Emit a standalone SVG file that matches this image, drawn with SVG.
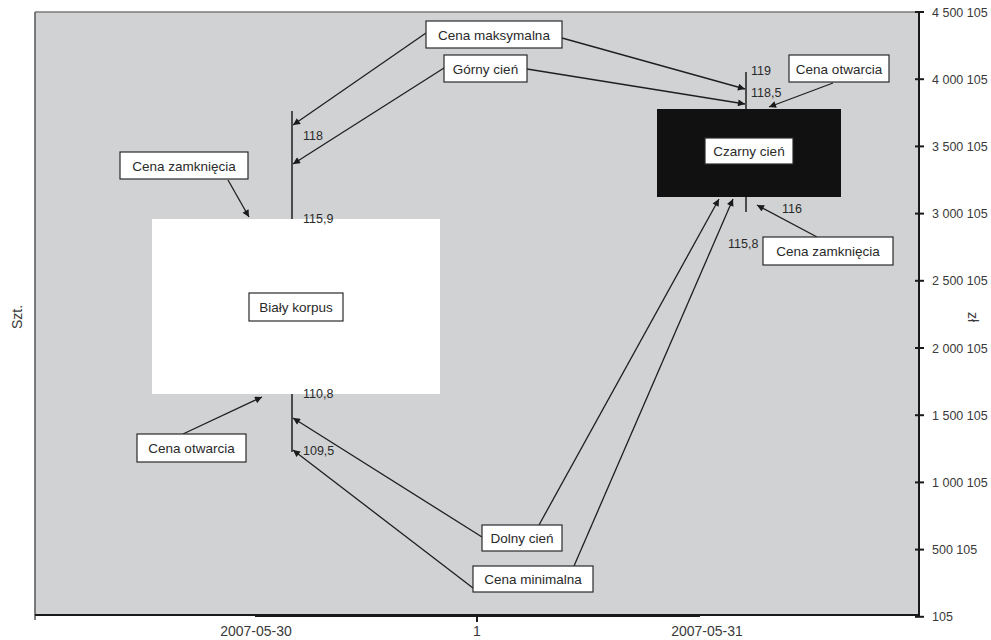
<svg xmlns="http://www.w3.org/2000/svg" width="991" height="640" viewBox="0 0 991 640">
<defs>
<marker id="ah" viewBox="0 0 10 10" refX="10" refY="5" markerWidth="9" markerHeight="7" markerUnits="userSpaceOnUse" orient="auto">
<path d="M0,0 L10,5 L0,10 Z" fill="#1a1a1a"/>
</marker>
</defs>
<style>
.lbl{font-family:"Liberation Sans",Arial,sans-serif;font-size:13.5px;fill:#2a2a2a;text-anchor:middle}
.val{font-family:"Liberation Sans",Arial,sans-serif;font-size:12.5px;fill:#2a2a2a}
.tick{font-family:"Liberation Sans",Arial,sans-serif;font-size:12.5px;fill:#3a3a3a}
.ax{font-family:"Liberation Sans",Arial,sans-serif;font-size:14px;fill:#3a3a3a;text-anchor:middle}
.box{fill:#fff;stroke:#2a2a2a;stroke-width:1.2}
.con{stroke:#1f1f1f;stroke-width:1.3;fill:none;marker-end:url(#ah)}
.wick{stroke:#1f1f1f;stroke-width:1.5}
</style>
<rect width="991" height="640" fill="#fff"/>
<!-- plot area -->
<rect x="35" y="12" width="884" height="603" fill="#d1d2d4"/>
<line x1="35" y1="12" x2="919" y2="12" stroke="#7a7a7a" stroke-width="1.5"/>
<line x1="35" y1="12" x2="35" y2="620" stroke="#555" stroke-width="1.5"/>
<!-- bottom axis -->
<g id="x-axis">
<line x1="35" y1="615" x2="919" y2="615" stroke="#1a1a1a" stroke-width="2"/>
<line x1="255" y1="615.5" x2="700" y2="615.5" stroke="#1a1a1a" stroke-width="3"/>
<line x1="477" y1="615" x2="477" y2="622" stroke="#1a1a1a" stroke-width="2"/>
<text class="ax" x="256" y="636">2007-05-30</text>
<text class="ax" x="477" y="636">1</text>
<text class="ax" x="707" y="636">2007-05-31</text>
</g>
<!-- right axis -->
<g id="y-axis">
<line x1="919" y1="12" x2="919" y2="617" stroke="#1a1a1a" stroke-width="2"/>
<g stroke="#1a1a1a" stroke-width="2">
<line x1="915" y1="12" x2="924" y2="12"/>
<line x1="915" y1="79.2" x2="924" y2="79.2"/>
<line x1="915" y1="146.4" x2="924" y2="146.4"/>
<line x1="915" y1="213.6" x2="924" y2="213.6"/>
<line x1="915" y1="280.8" x2="924" y2="280.8"/>
<line x1="915" y1="348" x2="924" y2="348"/>
<line x1="915" y1="415.2" x2="924" y2="415.2"/>
<line x1="915" y1="482.4" x2="924" y2="482.4"/>
<line x1="915" y1="549.6" x2="924" y2="549.6"/>
<line x1="915" y1="616.8" x2="924" y2="616.8"/>
</g>
<text class="tick" x="932" y="16.5">4 500 105</text>
<text class="tick" x="932" y="83.7">4 000 105</text>
<text class="tick" x="932" y="150.9">3 500 105</text>
<text class="tick" x="932" y="218.1">3 000 105</text>
<text class="tick" x="932" y="285.3">2 500 105</text>
<text class="tick" x="932" y="352.5">2 000 105</text>
<text class="tick" x="932" y="419.7">1 500 105</text>
<text class="tick" x="932" y="486.9">1 000 105</text>
<text class="tick" x="932" y="554.1">500 105</text>
<text class="tick" x="932" y="621.3">105</text>
</g>
<text class="ax" transform="translate(22,317) rotate(-90)" font-size="13">Szt.</text>
<text class="ax" transform="translate(968,317) rotate(90)" font-size="13">zł</text>
<!-- white candle -->
<g id="white-candle">
<line class="wick" x1="292" y1="111" x2="292" y2="219"/>
<line class="wick" x1="292" y1="394" x2="292" y2="452"/>
<rect x="152" y="219" width="288" height="175" fill="#fff"/>
<rect class="box" x="249" y="293" width="94" height="28"/>
<text class="lbl" x="296" y="312">Biały korpus</text>
<text class="val" x="303" y="140">118</text>
<text class="val" x="303" y="223">115,9</text>
<text class="val" x="303" y="398">110,8</text>
<text class="val" x="303" y="455">109,5</text>
</g>
<!-- black candle -->
<g id="black-candle">
<line class="wick" x1="746" y1="72" x2="746" y2="109"/>
<line class="wick" x1="746" y1="197" x2="746" y2="212"/>
<rect x="657" y="109" width="184" height="88" fill="#111"/>
<rect class="box" x="705" y="138" width="88" height="26"/>
<text class="lbl" x="749" y="156">Czarny cień</text>
<text class="val" x="751" y="75">119</text>
<text class="val" x="751" y="97">118,5</text>
<text class="val" x="782" y="213">116</text>
<text class="val" x="728" y="248">115,8</text>
</g>
<!-- connectors -->
<g id="connectors">
<line class="con" x1="426" y1="33" x2="293" y2="125"/>
<line class="con" x1="444" y1="68" x2="293" y2="164"/>
<line class="con" x1="562" y1="38" x2="745" y2="89"/>
<line class="con" x1="527" y1="69" x2="745" y2="104"/>
<line class="con" x1="833" y1="83" x2="769" y2="107"/>
<line class="con" x1="817" y1="237" x2="757" y2="205"/>
<line class="con" x1="228" y1="180" x2="249" y2="217"/>
<line class="con" x1="183" y1="434" x2="262" y2="397"/>
<line class="con" x1="482" y1="537" x2="293" y2="418"/>
<line class="con" x1="473" y1="588" x2="293" y2="450"/>
<line class="con" x1="539" y1="525" x2="719" y2="199"/>
<line class="con" x1="574" y1="566" x2="733" y2="199"/>
</g>
<!-- label nodes -->
<g id="n-cena-maksymalna"><rect class="box" x="426" y="21" width="136" height="27"/><text class="lbl" x="494" y="39.5">Cena maksymalna</text></g>
<g id="n-gorny-cien"><rect class="box" x="444" y="55" width="83" height="27"/><text class="lbl" x="485.5" y="73.5">Górny cień</text></g>
<g id="n-cena-zamkniecia-l"><rect class="box" x="120" y="152" width="128" height="27"/><text class="lbl" x="184" y="170.5">Cena zamknięcia</text></g>
<g id="n-cena-otwarcia-l"><rect class="box" x="137" y="434" width="109" height="28"/><text class="lbl" x="191.5" y="453">Cena otwarcia</text></g>
<g id="n-cena-otwarcia-r"><rect class="box" x="789" y="55" width="100" height="27"/><text class="lbl" x="839" y="73.5">Cena otwarcia</text></g>
<g id="n-cena-zamkniecia-r"><rect class="box" x="763" y="237" width="130" height="28"/><text class="lbl" x="828" y="256">Cena zamknięcia</text></g>
<g id="n-dolny-cien"><rect class="box" x="482" y="525" width="80" height="26"/><text class="lbl" x="522" y="543">Dolny cień</text></g>
<g id="n-cena-minimalna"><rect class="box" x="473" y="566" width="120" height="26"/><text class="lbl" x="533" y="584">Cena minimalna</text></g>
</svg>
